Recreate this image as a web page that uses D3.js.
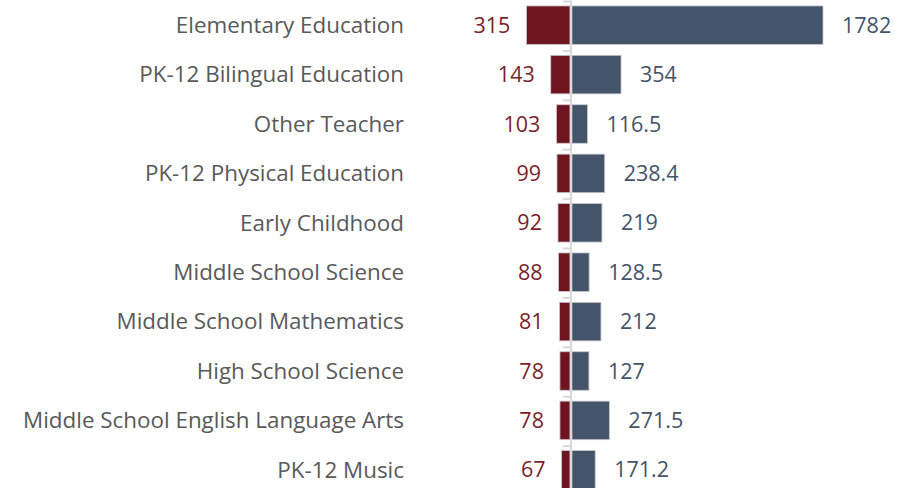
<!DOCTYPE html>
<html>
<head>
<meta charset="utf-8">
<script src="https://cdn.jsdelivr.net/npm/d3@7"></script>
<style>
  body { margin: 0; background: #fff; }
  text { font-family: "Open Sans", "Noto Sans", sans-serif; }
</style>
</head>
<body>
<div id="chart"></div>
<script>
const categories = ["Elementary Education", "PK-12 Bilingual Education", "Other Teacher",
  "PK-12 Physical Education", "Early Childhood", "Middle School Science",
  "Middle School Mathematics", "High School Science",
  "Middle School English Language Arts", "PK-12 Music"];
const leftValues = [315, 143, 103, 99, 92, 88, 81, 78, 78, 67];
const rightValues = [1782, 354, 116.5, 238.4, 219, 128.5, 212, 127, 271.5, 171.2];

var width = 902;
var height = 488;

var svg = d3.select("#chart")
  .append("svg")
    .attr("width", width)
    .attr("height", height);

var data = categories.map(function(c, i) {
  return { name: c, left: leftValues[i], right: rightValues[i] };
});

var y = d3.scaleBand()
  .domain(categories)
  .range([0.5, 494.5])
  .paddingInner(0.22)
  .paddingOuter(0.11);

var x = d3.scaleLinear()
  .domain([-400, 1900])
  .range([514.4, 839.7]);

var zero = x(0);

// category labels
svg.append("g")
  .selectAll("text")
  .data(data)
  .enter()
  .append("text")
    .attr("x", 404)
    .attr("y", function(d) { return y(d.name) + y.bandwidth() / 2; })
    .attr("dy", "0.35em")
    .attr("text-anchor", "end")
    .attr("fill", "#595959")
    .style("font-size", "22.4px")
    .text(function(d) { return d.name; });

// left bars
svg.append("g")
  .selectAll("rect")
  .data(data)
  .enter()
  .append("rect")
    .attr("x", function(d) { return x(-d.left); })
    .attr("y", function(d) { return y(d.name); })
    .attr("width", function(d) { return zero - 1 - x(-d.left); })
    .attr("height", y.bandwidth())
    .attr("fill", "#6f1522")
    .attr("stroke", "#c9c9c9")
    .attr("stroke-width", 0.8);

// right bars
svg.append("g")
  .selectAll("rect")
  .data(data)
  .enter()
  .append("rect")
    .attr("x", zero + 1)
    .attr("y", function(d) { return y(d.name); })
    .attr("width", function(d) { return x(d.right) - zero - 1; })
    .attr("height", y.bandwidth())
    .attr("fill", "#44546a")
    .attr("stroke", "#c9c9c9")
    .attr("stroke-width", 0.8);

// center axis
var axis = svg.append("g").attr("transform", "translate(" + zero + ",0)");
axis.append("line")
  .attr("y1", y.range()[0])
  .attr("y2", height)
  .attr("stroke", "#d9d9d9")
  .attr("stroke-width", 2);
var step = y.step();
axis.selectAll(".tick")
  .data(d3.range(categories.length + 1))
  .enter()
  .append("line")
    .attr("x1", -8)
    .attr("x2", 0)
    .attr("y1", function(i) { return y.range()[0] + i * step + 1; })
    .attr("y2", function(i) { return y.range()[0] + i * step + 1; })
    .attr("stroke", "#d9d9d9")
    .attr("stroke-width", 2);

// value labels
svg.append("g")
  .selectAll("text")
  .data(data)
  .enter()
  .append("text")
    .attr("x", function(d) { return x(-d.left) - 16; })
    .attr("y", function(d) { return y(d.name) + y.bandwidth() / 2; })
    .attr("dy", "0.35em")
    .attr("text-anchor", "end")
    .attr("fill", "#7a1f2b")
    .style("font-size", "21.5px")
    .text(function(d) { return d.left; });

svg.append("g")
  .selectAll("text")
  .data(data)
  .enter()
  .append("text")
    .attr("x", function(d) { return x(d.right) + 19; })
    .attr("y", function(d) { return y(d.name) + y.bandwidth() / 2; })
    .attr("dy", "0.35em")
    .attr("fill", "#44546a")
    .style("font-size", "21.5px")
    .text(function(d) { return d.right; });
</script>
</body>
</html>
